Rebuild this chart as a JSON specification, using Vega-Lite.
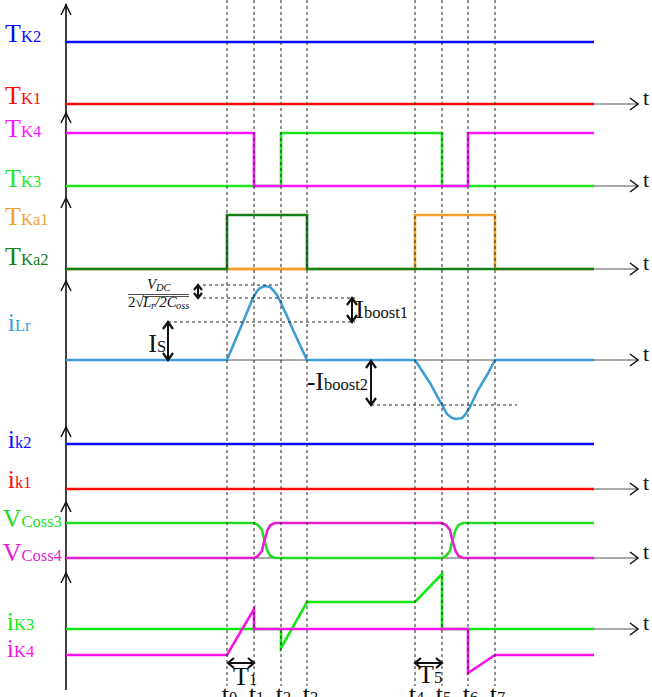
{
 "$schema": "https://vega.github.io/schema/vega-lite/v6.json",
 "width": 652, "height": 697, "padding": 0, "autosize": {"type": "none"},
 "background": "white",
 "config": {"view": {"stroke": null}},
 "datasets": {
  "sig": [
   {"k":"TK2","z":1,"i":0,"x":66,"y":42},{"k":"TK2","z":1,"i":1,"x":594,"y":42},
   {"k":"TK1","z":1,"i":0,"x":66,"y":104},{"k":"TK1","z":1,"i":1,"x":594,"y":104},
   {"k":"TK3","z":1,"i":0,"x":66,"y":186},{"k":"TK3","z":1,"i":1,"x":281,"y":186},{"k":"TK3","z":1,"i":2,"x":281,"y":133},{"k":"TK3","z":1,"i":3,"x":442,"y":133},{"k":"TK3","z":1,"i":4,"x":442,"y":186},{"k":"TK3","z":1,"i":5,"x":594,"y":186},
   {"k":"TK4","z":2,"i":0,"x":66,"y":133},{"k":"TK4","z":2,"i":1,"x":254,"y":133},{"k":"TK4","z":2,"i":2,"x":254,"y":186},{"k":"TK4","z":2,"i":3,"x":468,"y":186},{"k":"TK4","z":2,"i":4,"x":468,"y":133},{"k":"TK4","z":2,"i":5,"x":594,"y":133},
   {"k":"TKa1","z":0,"i":0,"x":66,"y":269},{"k":"TKa1","z":0,"i":1,"x":415,"y":269},{"k":"TKa1","z":0,"i":2,"x":415,"y":215},{"k":"TKa1","z":0,"i":3,"x":495,"y":215},{"k":"TKa1","z":0,"i":4,"x":495,"y":269},{"k":"TKa1","z":0,"i":5,"x":594,"y":269},
   {"k":"TKa2","z":1,"i":0,"x":66,"y":269},{"k":"TKa2","z":1,"i":1,"x":227,"y":269},{"k":"TKa2","z":1,"i":2,"x":227,"y":215},{"k":"TKa2","z":1,"i":3,"x":307,"y":215},{"k":"TKa2","z":1,"i":4,"x":307,"y":269},{"k":"TKa2","z":1,"i":5,"x":594,"y":269},
   {"k":"TKa1b","z":2,"i":0,"x":229,"y":269},{"k":"TKa1b","z":2,"i":1,"x":305,"y":269},
   {"k":"iLr","z":1,"i":0,"x":66,"y":360},{"k":"iLr","z":1,"i":1,"x":227,"y":360},{"k":"iLr","z":1,"i":2,"x":235,"y":341},{"k":"iLr","z":1,"i":3,"x":243,"y":322},{"k":"iLr","z":1,"i":4,"x":250,"y":305},{"k":"iLr","z":1,"i":5,"x":253,"y":298},{"k":"iLr","z":1,"i":6,"x":257,"y":291},{"k":"iLr","z":1,"i":7,"x":260,"y":288},{"k":"iLr","z":1,"i":8,"x":265,"y":286},{"k":"iLr","z":1,"i":9,"x":270,"y":287},{"k":"iLr","z":1,"i":10,"x":273,"y":290},{"k":"iLr","z":1,"i":11,"x":277,"y":295},{"k":"iLr","z":1,"i":12,"x":280,"y":301},{"k":"iLr","z":1,"i":13,"x":287,"y":316},{"k":"iLr","z":1,"i":14,"x":293,"y":330},{"k":"iLr","z":1,"i":15,"x":300,"y":345},{"k":"iLr","z":1,"i":16,"x":307,"y":360},{"k":"iLr","z":1,"i":17,"x":415,"y":360},{"k":"iLr","z":1,"i":18,"x":430,"y":383},{"k":"iLr","z":1,"i":19,"x":442,"y":405},{"k":"iLr","z":1,"i":20,"x":447,"y":414},{"k":"iLr","z":1,"i":21,"x":452,"y":418},{"k":"iLr","z":1,"i":22,"x":456,"y":419},{"k":"iLr","z":1,"i":23,"x":462,"y":418},{"k":"iLr","z":1,"i":24,"x":465,"y":415},{"k":"iLr","z":1,"i":25,"x":470,"y":407},{"k":"iLr","z":1,"i":26,"x":478,"y":390},{"k":"iLr","z":1,"i":27,"x":487,"y":375},{"k":"iLr","z":1,"i":28,"x":495,"y":360},{"k":"iLr","z":1,"i":29,"x":594,"y":360},
   {"k":"ik2","z":1,"i":0,"x":66,"y":444},{"k":"ik2","z":1,"i":1,"x":594,"y":444},
   {"k":"ik1","z":1,"i":0,"x":66,"y":489},{"k":"ik1","z":1,"i":1,"x":594,"y":489},
   {"k":"VCoss3","z":1,"i":0,"x":66,"y":523},{"k":"VCoss3","z":1,"i":1,"x":254,"y":523},{"k":"VCoss3","z":1,"i":2,"x":258,"y":525.1},{"k":"VCoss3","z":1,"i":3,"x":262,"y":530},{"k":"VCoss3","z":1,"i":4,"x":263.5,"y":537},{"k":"VCoss3","z":1,"i":5,"x":265.5,"y":544},{"k":"VCoss3","z":1,"i":6,"x":267.5,"y":551},{"k":"VCoss3","z":1,"i":7,"x":270.5,"y":555.9},{"k":"VCoss3","z":1,"i":8,"x":275,"y":558},{"k":"VCoss3","z":1,"i":9,"x":281,"y":558},{"k":"VCoss3","z":1,"i":10,"x":442,"y":558},{"k":"VCoss3","z":1,"i":11,"x":446,"y":555.9},{"k":"VCoss3","z":1,"i":12,"x":450,"y":551},{"k":"VCoss3","z":1,"i":13,"x":451.5,"y":544},{"k":"VCoss3","z":1,"i":14,"x":453.5,"y":537},{"k":"VCoss3","z":1,"i":15,"x":455.5,"y":530},{"k":"VCoss3","z":1,"i":16,"x":458.5,"y":525.1},{"k":"VCoss3","z":1,"i":17,"x":463,"y":523},{"k":"VCoss3","z":1,"i":18,"x":468,"y":523},{"k":"VCoss3","z":1,"i":19,"x":594,"y":523},
   {"k":"VCoss4","z":1,"i":0,"x":66,"y":558},{"k":"VCoss4","z":1,"i":1,"x":254,"y":558},{"k":"VCoss4","z":1,"i":2,"x":258,"y":555.9},{"k":"VCoss4","z":1,"i":3,"x":262,"y":551},{"k":"VCoss4","z":1,"i":4,"x":263.5,"y":544},{"k":"VCoss4","z":1,"i":5,"x":265.5,"y":537},{"k":"VCoss4","z":1,"i":6,"x":267.5,"y":530},{"k":"VCoss4","z":1,"i":7,"x":270.5,"y":525.1},{"k":"VCoss4","z":1,"i":8,"x":275,"y":523},{"k":"VCoss4","z":1,"i":9,"x":281,"y":523},{"k":"VCoss4","z":1,"i":10,"x":442,"y":523},{"k":"VCoss4","z":1,"i":11,"x":446,"y":525.1},{"k":"VCoss4","z":1,"i":12,"x":450,"y":530},{"k":"VCoss4","z":1,"i":13,"x":451.5,"y":537},{"k":"VCoss4","z":1,"i":14,"x":453.5,"y":544},{"k":"VCoss4","z":1,"i":15,"x":455.5,"y":551},{"k":"VCoss4","z":1,"i":16,"x":458.5,"y":555.9},{"k":"VCoss4","z":1,"i":17,"x":463,"y":558},{"k":"VCoss4","z":1,"i":18,"x":468,"y":558},{"k":"VCoss4","z":1,"i":19,"x":594,"y":558},
   {"k":"iK3","z":1,"i":0,"x":66,"y":629},{"k":"iK3","z":1,"i":1,"x":281,"y":629},{"k":"iK3","z":1,"i":2,"x":281,"y":648},{"k":"iK3","z":1,"i":3,"x":307,"y":602},{"k":"iK3","z":1,"i":4,"x":415,"y":602},{"k":"iK3","z":1,"i":5,"x":442,"y":574},{"k":"iK3","z":1,"i":6,"x":442,"y":629},{"k":"iK3","z":1,"i":7,"x":594,"y":629},
   {"k":"iK4","z":2,"i":0,"x":66,"y":655},{"k":"iK4","z":2,"i":1,"x":227,"y":655},{"k":"iK4","z":2,"i":2,"x":254,"y":609},{"k":"iK4","z":2,"i":3,"x":254,"y":629},{"k":"iK4","z":2,"i":4,"x":468,"y":629},{"k":"iK4","z":2,"i":5,"x":468,"y":673},{"k":"iK4","z":2,"i":6,"x":495,"y":655},{"k":"iK4","z":2,"i":7,"x":594,"y":655}
  ],
  "sg": [
   {"kind":"axis","x":66,"y":104,"x2":638,"y2":104},
   {"kind":"axis","x":66,"y":186,"x2":638,"y2":186},
   {"kind":"axis","x":66,"y":269,"x2":638,"y2":269},
   {"kind":"axis","x":66,"y":360,"x2":638,"y2":360},
   {"kind":"axis","x":66,"y":489,"x2":638,"y2":489},
   {"kind":"axis","x":66,"y":558,"x2":638,"y2":558},
   {"kind":"axis","x":66,"y":629,"x2":638,"y2":629},
   {"kind":"vaxis","x":66,"y":4,"x2":66,"y2":690},
   {"kind":"dash","x":227,"y":0,"x2":227,"y2":686},
   {"kind":"dash","x":254,"y":0,"x2":254,"y2":686},
   {"kind":"dash","x":281,"y":0,"x2":281,"y2":686},
   {"kind":"dash","x":307,"y":0,"x2":307,"y2":686},
   {"kind":"dash","x":415,"y":0,"x2":415,"y2":686},
   {"kind":"dash","x":442,"y":0,"x2":442,"y2":686},
   {"kind":"dash","x":468,"y":0,"x2":468,"y2":686},
   {"kind":"dash","x":495,"y":0,"x2":495,"y2":686},
   {"kind":"dash","x":203,"y":285,"x2":280,"y2":285},
   {"kind":"dash","x":203,"y":298,"x2":355,"y2":298},
   {"kind":"dash","x":168,"y":322,"x2":355,"y2":322},
   {"kind":"dash","x":371,"y":405,"x2":517,"y2":405},
   {"kind":"bold","x":168,"y":322,"x2":168,"y2":360},
   {"kind":"bold","x":198,"y":285,"x2":198,"y2":298},
   {"kind":"bold","x":352,"y":298,"x2":352,"y2":322},
   {"kind":"bold","x":371,"y":361,"x2":371,"y2":405},
   {"kind":"bold","x":228,"y":663,"x2":254,"y2":663},
   {"kind":"bold","x":415,"y":663,"x2":442,"y2":663},
   {"kind":"frac","x":128,"y":294.5,"x2":189,"y2":294.5},
   {"kind":"frac","x":143,"y":296.5,"x2":189,"y2":296.5}
  ],
  "hd": [
   {"h":"v1","b":0,"i":0,"x":61,"y":15},{"h":"v1","b":0,"i":1,"x":66,"y":5},{"h":"v1","b":0,"i":2,"x":71,"y":15},
   {"h":"v2","b":0,"i":0,"x":61,"y":123},{"h":"v2","b":0,"i":1,"x":66,"y":113},{"h":"v2","b":0,"i":2,"x":71,"y":123},
   {"h":"v3","b":0,"i":0,"x":61,"y":208},{"h":"v3","b":0,"i":1,"x":66,"y":198},{"h":"v3","b":0,"i":2,"x":71,"y":208},
   {"h":"v4","b":0,"i":0,"x":61,"y":291},{"h":"v4","b":0,"i":1,"x":66,"y":281},{"h":"v4","b":0,"i":2,"x":71,"y":291},
   {"h":"v5","b":0,"i":0,"x":61,"y":437},{"h":"v5","b":0,"i":1,"x":66,"y":427},{"h":"v5","b":0,"i":2,"x":71,"y":437},
   {"h":"v6","b":0,"i":0,"x":61,"y":512},{"h":"v6","b":0,"i":1,"x":66,"y":502},{"h":"v6","b":0,"i":2,"x":71,"y":512},
   {"h":"v7","b":0,"i":0,"x":61,"y":583},{"h":"v7","b":0,"i":1,"x":66,"y":573},{"h":"v7","b":0,"i":2,"x":71,"y":583},
   {"h":"r1","b":0,"i":0,"x":630,"y":98},{"h":"r1","b":0,"i":1,"x":638,"y":104},{"h":"r1","b":0,"i":2,"x":630,"y":110},
   {"h":"r2","b":0,"i":0,"x":630,"y":180},{"h":"r2","b":0,"i":1,"x":638,"y":186},{"h":"r2","b":0,"i":2,"x":630,"y":192},
   {"h":"r3","b":0,"i":0,"x":630,"y":263},{"h":"r3","b":0,"i":1,"x":638,"y":269},{"h":"r3","b":0,"i":2,"x":630,"y":275},
   {"h":"r4","b":0,"i":0,"x":630,"y":354},{"h":"r4","b":0,"i":1,"x":638,"y":360},{"h":"r4","b":0,"i":2,"x":630,"y":366},
   {"h":"r5","b":0,"i":0,"x":630,"y":483},{"h":"r5","b":0,"i":1,"x":638,"y":489},{"h":"r5","b":0,"i":2,"x":630,"y":495},
   {"h":"r6","b":0,"i":0,"x":630,"y":552},{"h":"r6","b":0,"i":1,"x":638,"y":558},{"h":"r6","b":0,"i":2,"x":630,"y":564},
   {"h":"r7","b":0,"i":0,"x":630,"y":623},{"h":"r7","b":0,"i":1,"x":638,"y":629},{"h":"r7","b":0,"i":2,"x":630,"y":635},
   {"h":"a1","b":1,"i":0,"x":163,"y":329},{"h":"a1","b":1,"i":1,"x":168,"y":322},{"h":"a1","b":1,"i":2,"x":173,"y":329},
   {"h":"a2","b":1,"i":0,"x":163,"y":353},{"h":"a2","b":1,"i":1,"x":168,"y":360},{"h":"a2","b":1,"i":2,"x":173,"y":353},
   {"h":"a3","b":1,"i":0,"x":194,"y":290},{"h":"a3","b":1,"i":1,"x":198,"y":285},{"h":"a3","b":1,"i":2,"x":202,"y":290},
   {"h":"a4","b":1,"i":0,"x":194,"y":293},{"h":"a4","b":1,"i":1,"x":198,"y":298},{"h":"a4","b":1,"i":2,"x":202,"y":293},
   {"h":"a5","b":1,"i":0,"x":347,"y":305},{"h":"a5","b":1,"i":1,"x":352,"y":298},{"h":"a5","b":1,"i":2,"x":357,"y":305},
   {"h":"a6","b":1,"i":0,"x":347,"y":315},{"h":"a6","b":1,"i":1,"x":352,"y":322},{"h":"a6","b":1,"i":2,"x":357,"y":315},
   {"h":"a7","b":1,"i":0,"x":366,"y":368},{"h":"a7","b":1,"i":1,"x":371,"y":361},{"h":"a7","b":1,"i":2,"x":376,"y":368},
   {"h":"a8","b":1,"i":0,"x":366,"y":398},{"h":"a8","b":1,"i":1,"x":371,"y":405},{"h":"a8","b":1,"i":2,"x":376,"y":398},
   {"h":"a9","b":1,"i":0,"x":234,"y":658},{"h":"a9","b":1,"i":1,"x":228,"y":663},{"h":"a9","b":1,"i":2,"x":234,"y":668},
   {"h":"a10","b":1,"i":0,"x":248,"y":658},{"h":"a10","b":1,"i":1,"x":254,"y":663},{"h":"a10","b":1,"i":2,"x":248,"y":668},
   {"h":"a11","b":1,"i":0,"x":421,"y":658},{"h":"a11","b":1,"i":1,"x":415,"y":663},{"h":"a11","b":1,"i":2,"x":421,"y":668},
   {"h":"a12","b":1,"i":0,"x":436,"y":658},{"h":"a12","b":1,"i":1,"x":442,"y":663},{"h":"a12","b":1,"i":2,"x":436,"y":668}
  ],
  "lb": [
   {"k":"TK2","x":21,"y":42,"m":"T","s":"K2"},
   {"k":"TK1","x":21,"y":104,"m":"T","s":"K1"},
   {"k":"TK4","x":21,"y":137,"m":"T","s":"K4"},
   {"k":"TK3","x":21,"y":187,"m":"T","s":"K3"},
   {"k":"TKa1","x":21,"y":225,"m":"T","s":"Ka1"},
   {"k":"TKa2","x":21,"y":265,"m":"T","s":"Ka2"},
   {"k":"iLr","x":15,"y":331,"m":"i","s":"Lr"},
   {"k":"black","x":157,"y":352,"m":"I","s":"S"},
   {"k":"black","x":364,"y":318,"m":"I","s":"boost1"},
   {"k":"black","x":324,"y":390,"m":"-I","s":"boost2"},
   {"k":"ik2","x":15,"y":448,"m":"i","s":"k2"},
   {"k":"ik1","x":15,"y":488,"m":"i","s":"k1"},
   {"k":"VCoss3","x":21.5,"y":527,"m":"V","s":"Coss3"},
   {"k":"VCoss4","x":21.5,"y":561,"m":"V","s":"Coss4"},
   {"k":"iK3","x":14,"y":630,"m":"i","s":"K3"},
   {"k":"iK4","x":14,"y":657,"m":"i","s":"K4"},
   {"k":"black","x":249,"y":685,"m":"T","s":"1"},
   {"k":"black","x":434,"y":683,"m":"T","s":"5"},
   {"k":"black","x":229,"y":703,"m":"t","s":"0"},
   {"k":"black","x":256,"y":703,"m":"t","s":"1"},
   {"k":"black","x":283,"y":703,"m":"t","s":"2"},
   {"k":"black","x":310,"y":703,"m":"t","s":"3"},
   {"k":"black","x":416,"y":703,"m":"t","s":"4"},
   {"k":"black","x":443,"y":703,"m":"t","s":"5"},
   {"k":"black","x":470,"y":703,"m":"t","s":"6"},
   {"k":"black","x":497,"y":703,"m":"t","s":"7"}
  ],
  "mt": [
   {"f":"bi","x":147,"y":289,"t":"V"},
   {"f":"si","x":156,"y":291,"t":"DC"},
   {"f":"bn","x":128,"y":307,"t":"2√"},
   {"f":"bi","x":143,"y":307,"t":"L"},
   {"f":"si","x":151,"y":309,"t":"r"},
   {"f":"bi","x":155,"y":307,"t":"/2C"},
   {"f":"si","x":176,"y":309,"t":"oss"}
  ]
 },
 "encoding": {
  "x": {"field": "x", "type": "quantitative", "scale": {"domain": [0, 652], "nice": false, "zero": false}, "axis": null},
  "y": {"field": "y", "type": "quantitative", "scale": {"domain": [0, 697], "reverse": true, "nice": false, "zero": false}, "axis": null}
 },
 "layer": [
  {"data": {"name": "sg"}, "transform": [{"filter": "datum.kind == 'axis'"}],
   "mark": {"type": "rule", "color": "#555555", "strokeWidth": 1},
   "encoding": {"x2": {"field": "x2"}, "y2": {"field": "y2"}}},
  {"data": {"name": "sg"}, "transform": [{"filter": "datum.kind == 'vaxis'"}],
   "mark": {"type": "rule", "color": "#111111", "strokeWidth": 1.6},
   "encoding": {"x2": {"field": "x2"}, "y2": {"field": "y2"}}},
  {"data": {"name": "sig"}, "transform": [{"filter": "datum.z == 0"}],
   "mark": {"type": "line", "strokeWidth": 2.6, "strokeJoin": "miter"},
   "encoding": {"color": {"field": "k", "type": "nominal", "legend": null,
     "scale": {"domain": ["TK2","TK1","TK4","TK3","TKa1","TKa1b","TKa2","iLr","ik2","ik1","VCoss3","VCoss4","iK3","iK4","black"],
               "range": ["#0a0aff","#ff0a0a","#ff14ff","#1ee61e","#f2a02c","#f2a02c","#167f16","#3e9dd3","#0a0aff","#ff0a0a","#24dc24","#e41fd0","#14e814","#f514e6","#111111"]}},
     "order": {"field": "i", "type": "quantitative"}}},
  {"data": {"name": "sig"}, "transform": [{"filter": "datum.z == 1"}],
   "mark": {"type": "line", "strokeWidth": 2.6, "strokeJoin": "miter"},
   "encoding": {"color": {"field": "k", "type": "nominal", "legend": null},
     "order": {"field": "i", "type": "quantitative"}}},
  {"data": {"name": "sig"}, "transform": [{"filter": "datum.z == 2"}],
   "mark": {"type": "line", "strokeWidth": 2.6, "strokeJoin": "miter"},
   "encoding": {"color": {"field": "k", "type": "nominal", "legend": null},
     "order": {"field": "i", "type": "quantitative"}}},
  {"data": {"name": "sg"}, "transform": [{"filter": "datum.kind == 'dash'"}],
   "mark": {"type": "rule", "color": "#222222", "strokeWidth": 1, "strokeDash": [3, 3]},
   "encoding": {"x2": {"field": "x2"}, "y2": {"field": "y2"}}},
  {"data": {"name": "sg"}, "transform": [{"filter": "datum.kind == 'bold'"}],
   "mark": {"type": "rule", "color": "#111111", "strokeWidth": 2},
   "encoding": {"x2": {"field": "x2"}, "y2": {"field": "y2"}}},
  {"data": {"name": "sg"}, "transform": [{"filter": "datum.kind == 'frac'"}],
   "mark": {"type": "rule", "color": "#222222", "strokeWidth": 0.8},
   "encoding": {"x2": {"field": "x2"}, "y2": {"field": "y2"}}},
  {"data": {"name": "hd"}, "transform": [{"filter": "datum.b == 0"}],
   "mark": {"type": "line", "color": "#111111", "strokeWidth": 1.5},
   "encoding": {"detail": {"field": "h"}, "order": {"field": "i", "type": "quantitative"}}},
  {"data": {"name": "hd"}, "transform": [{"filter": "datum.b == 1"}],
   "mark": {"type": "line", "color": "#111111", "strokeWidth": 2.2},
   "encoding": {"detail": {"field": "h"}, "order": {"field": "i", "type": "quantitative"}}},
  {"data": {"name": "sg"}, "transform": [{"filter": "datum.kind == 'axis'"}],
   "mark": {"type": "text", "font": "Liberation Serif", "fontSize": 22, "align": "left", "baseline": "alphabetic", "dx": 5, "dy": 1, "color": "#111111"},
   "encoding": {"x": {"field": "x2", "type": "quantitative"}, "text": {"value": "t"}}},
  {"data": {"name": "lb"},
   "mark": {"type": "text", "font": "Liberation Serif", "fontSize": 26, "align": "right", "baseline": "alphabetic"},
   "encoding": {"text": {"field": "m"}, "color": {"field": "k", "type": "nominal", "legend": null}}},
  {"data": {"name": "lb"},
   "mark": {"type": "text", "font": "Liberation Serif", "fontSize": 16.5, "align": "left", "baseline": "alphabetic"},
   "encoding": {"text": {"field": "s"}, "color": {"field": "k", "type": "nominal", "legend": null}}},
  {"data": {"name": "mt"}, "transform": [{"filter": "datum.f == 'bi'"}],
   "mark": {"type": "text", "font": "Liberation Serif", "fontStyle": "italic", "fontSize": 15, "align": "left", "baseline": "alphabetic", "color": "#111111"},
   "encoding": {"text": {"field": "t"}}},
  {"data": {"name": "mt"}, "transform": [{"filter": "datum.f == 'bn'"}],
   "mark": {"type": "text", "font": "Liberation Serif", "fontSize": 15, "align": "left", "baseline": "alphabetic", "color": "#111111"},
   "encoding": {"text": {"field": "t"}}},
  {"data": {"name": "mt"}, "transform": [{"filter": "datum.f == 'si'"}],
   "mark": {"type": "text", "font": "Liberation Serif", "fontStyle": "italic", "fontSize": 10.5, "align": "left", "baseline": "alphabetic", "color": "#111111"},
   "encoding": {"text": {"field": "t"}}}
 ]
}
